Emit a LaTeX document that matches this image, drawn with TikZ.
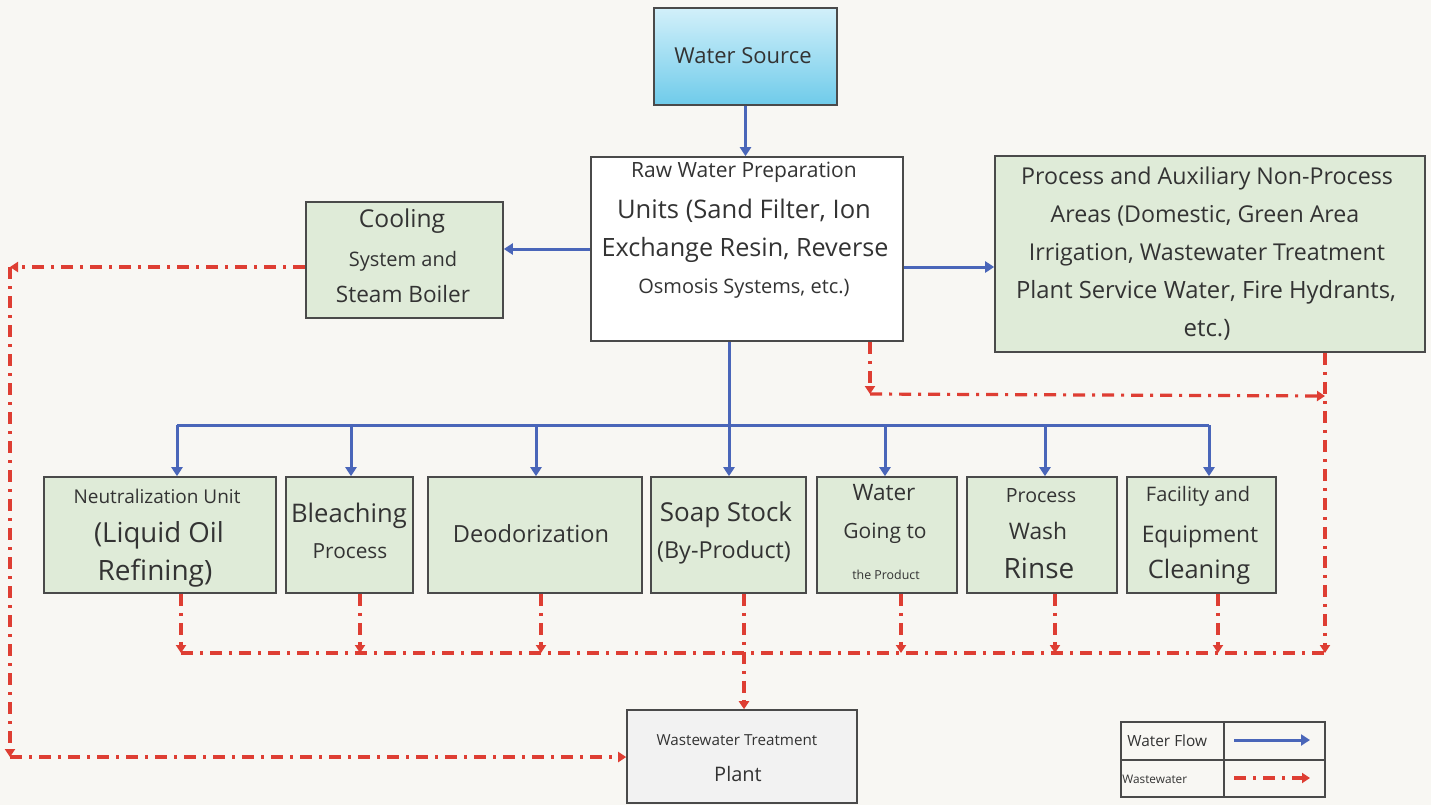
\documentclass[tikz,border=0pt]{standalone}
\usepackage{fontspec}
\setmainfont{Open Sans}
\usetikzlibrary{arrows.meta}

\definecolor{paper}{HTML}{F8F7F3}
\definecolor{boxline}{HTML}{4A4A4A}
\definecolor{boxgreen}{HTML}{DFEBD8}
\definecolor{plantgray}{HTML}{F2F2F2}
\definecolor{srctop}{HTML}{D2F0FA}
\definecolor{srcbot}{HTML}{6FCBEA}
\definecolor{txt}{HTML}{333333}
\definecolor{flowblue}{HTML}{4A66B9}
\definecolor{wastered}{HTML}{DE3E33}

\newcommand\fsz[1]{\fontsize{#1pt}{#1pt}\selectfont}

\begin{document}
\begin{tikzpicture}[x=0.5pt, y=-0.5pt,
    box/.style={draw=boxline, line width=0.8pt, inner sep=0pt},
    grn/.style={box, fill=boxgreen},
    lab/.style={font=\fsz{#1}, text=txt, inner sep=0pt, text height=.72em, text depth=.2em},
    flow/.style={flowblue, line width=1.5pt, -{Triangle[length=4.5pt, width=5.5pt]}},
    bus/.style={flowblue, line width=1.5pt},
    waste/.style={wastered, line width=1.6pt, dash pattern=on 6pt off 3.5pt on 1.5pt off 3.5pt,
                  -{Triangle[length=4pt, width=5pt]}},
    drain/.style={wastered, line width=1.6pt, dash pattern=on 6pt off 3.5pt on 1.5pt off 3.5pt}]

  \fill[paper] (0,0) rectangle (1431,805);
  \useasboundingbox (0,0) rectangle (1431,805);

  % top of the chain
  \node[box, top color=srctop, bottom color=srcbot, minimum width=91.5pt, minimum height=48.5pt] (src) at (745.5,56.5) {};
  \node[box, fill=white, minimum width=156pt, minimum height=92pt] (raw) at (747,249) {};
  \node[grn, minimum width=98.5pt, minimum height=58pt] (cool) at (404.5,260) {};
  \node[grn, minimum width=215pt, minimum height=98pt] (aux) at (1210,254) {};

  % process row
  \node[grn, minimum width=116pt, minimum height=58pt] (neu) at (160,535) {};
  \node[grn, minimum width=63.5pt, minimum height=58pt] (ble) at (349.5,535) {};
  \node[grn, minimum width=107pt, minimum height=58pt] (deo) at (535,535) {};
  \node[grn, minimum width=77.5pt, minimum height=58pt] (soap) at (728.5,535) {};
  \node[grn, minimum width=70pt, minimum height=58pt] (wgo) at (887,535) {};
  \node[grn, minimum width=75pt, minimum height=58pt] (wash) at (1042,535) {};
  \node[grn, minimum width=74.5pt, minimum height=58pt] (fac) at (1201.5,535) {};

  \node[box, fill=plantgray, minimum width=115pt, minimum height=46.5pt] (wwtp) at (742,756.5) {};

  % texts
  \node[lab=11] (srcT) at (743,58) {Water Source};

  \node[lab=10.5] (rawA) at (744,172) {Raw Water Preparation};
  \node[lab=12.8] (rawB) at (744,213) {Units (Sand Filter, Ion};
  \node[lab=12.6] (rawC) at (745,251) {Exchange Resin, Reverse};
  \node[lab=10] (rawD) at (744,288) {Osmosis Systems, etc.)};

  \node[lab=12.3] (coolA) at (402,222) {Cooling};
  \node[lab=10] (coolB) at (403,261) {System and};
  \node[lab=11.3] (coolC) at (403,297) {Steam Boiler};

  \node[lab=11.6] (auxA) at (1207,179) {Process and Auxiliary Non-Process};
  \node[lab=11.6] (auxB) at (1205,217) {Areas (Domestic, Green Area};
  \node[lab=11.6] (auxC) at (1207,255) {Irrigation, Wastewater Treatment};
  \node[lab=11.9] (auxD) at (1206,293) {Plant Service Water, Fire Hydrants,};
  \node[lab=12] (auxE) at (1207,331) {etc.)};

  \node[lab=9.5] (neuA) at (157,498) {Neutralization Unit};
  \node[lab=13.8] (neuB) at (159,537) {(Liquid Oil};
  \node[lab=14] (neuC) at (155,575) {Refining)};

  \node[lab=12.8] (bleA) at (349,517) {Bleaching};
  \node[lab=10.4] (bleB) at (350,553) {Process};

  \node[lab=11.8] (deoA) at (531,537) {Deodorization};

  \node[lab=13] (soapA) at (726,516) {Soap Stock};
  \node[lab=11.7] (soapB) at (724,553) {(By-Product)};

  \node[lab=11.3] (wgoA) at (884,495) {Water};
  \node[lab=10.5] (wgoB) at (885,533) {Going to};
  \node[lab=6.2] (wgoC) at (886,574) {the Product};

  \node[lab=9.8] (washA) at (1041,497) {Process};
  \node[lab=11.4] (washB) at (1038,534) {Wash};
  \node[lab=14] (washC) at (1039,573) {Rinse};

  \node[lab=10] (facA) at (1198,496) {Facility and};
  \node[lab=11.4] (facB) at (1200,537) {Equipment};
  \node[lab=12.7] (facC) at (1199,573) {Cleaning};

  \node[lab=7.6] (wwtpA) at (737,740) {Wastewater Treatment};
  \node[lab=10] (wwtpB) at (738,776) {Plant};

  % water flow
  \draw[flow] (src.south) -- (src.south |- raw.north);
  \draw[flow] (raw.west) -- (raw.west -| cool.east);
  \draw[flow] ([yshift=-9pt]raw.east) -- ([yshift=-9pt]raw.east -| aux.west);
  \coordinate (hub) at (729,425);
  \draw[flow] (hub |- raw.south) -- (hub |- soap.north);
  \draw[bus] (177,425) -- (1209,425);
  \foreach \n/\x in {neu/177, ble/351, deo/536, wgo/885, wash/1045, fac/1209}
    \draw[flow] (\x,425) -- (\x,425 |- \n.north);

  % wastewater
  \coordinate (sump) at (1325,653);
  \draw[drain] (181,653) -- (sump);
  \foreach \n/\x in {neu/181, ble/360, deo/541, wgo/901, wash/1055, fac/1218}
    \draw[waste] (\x,593 |- \n.south) -- (\x,653);
  \draw[waste] (744,593 |- soap.south) -- (744,593 |- wwtp.north);
  \draw[waste] (1325,352 |- aux.south) -- (sump);
  \coordinate (rawout) at (870,394);
  \draw[waste] (870,341 |- raw.south) -- (rawout);
  \draw[waste] (rawout) -- (1325,396);
  \coordinate (lefttop) at (10,267);
  \coordinate (leftbot) at (10,757);
  \draw[waste] (cool.west |- lefttop) -- (lefttop);
  \draw[waste] (lefttop) -- (leftbot);
  \draw[waste] (leftbot) -- (leftbot -| wwtp.west);

  % legend
  \draw[boxline, line width=0.8pt] (1121,722) rectangle (1325,797)
    (1224,722) -- (1224,797) (1121,760) -- (1325,760);
  \node[lab=7.7, anchor=west] (legA) at (1127,741) {Water Flow};
  \node[lab=5.9, anchor=west] (legB) at (1122,778) {Wastewater};
  \draw[flow] (1234,740) -- (1310,740);
  \draw[waste] (1234,778) -- (1310,778);
\end{tikzpicture}
\end{document}
